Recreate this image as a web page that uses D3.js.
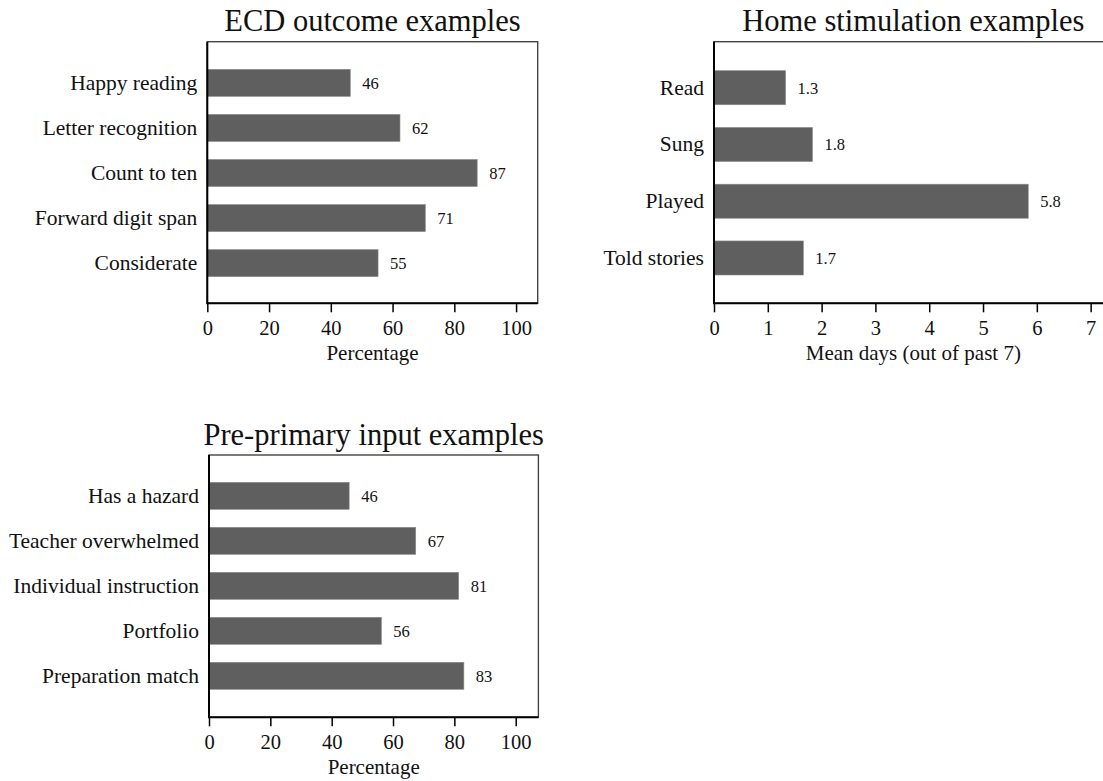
<!DOCTYPE html>
<html>
<head>
<meta charset="utf-8">
<script src="https://cdn.jsdelivr.net/npm/d3@7"></script>
<style>
  html, body { margin: 0; padding: 0; background: #fff; }
  svg, svg text { font-family: "Liberation Serif", "Times New Roman", serif !important; }
</style>
</head>
<body>
<svg id="chart" width="1103" height="781"></svg>
<script>
// ---- Data ----
const ecdCategories = ["Happy reading", "Letter recognition", "Count to ten", "Forward digit span", "Considerate"];
const ecdValues = [46.3, 62.4, 87.4, 70.6, 55.3];

const homeCategories = ["Read", "Sung", "Played", "Told stories"];
const homeValues = [1.33, 1.83, 5.84, 1.66];

const preCategories = ["Has a hazard", "Teacher overwhelmed", "Individual instruction", "Portfolio", "Preparation match"];
const preValues = [45.7, 67.4, 81.4, 56.2, 83.1];

const pctTicks = [0, 20, 40, 60, 80, 100];
const dayTicks = [0, 1, 2, 3, 4, 5, 6, 7];

const titles = ["ECD outcome examples", "Home stimulation examples", "Pre-primary input examples"];
const axisTitles = ["Percentage", "Mean days (out of past 7)", "Percentage"];

// ---- Drawing ----
const svg = d3.select("#chart");
const BAR = "#5f5f5f";
const SERIF = '"Liberation Serif", "Times New Roman", serif';

function panel(cfg) {
  const g = svg.append("g");
  const x = d3.scaleLinear().domain([0, cfg.xMax]).range([cfg.left, cfg.right]);
  const y = d3.scaleBand().domain(cfg.categories).range(cfg.band).paddingInner(0.4).paddingOuter(0.2);

  g.append("rect")
    .attr("x", cfg.left).attr("y", cfg.top)
    .attr("width", cfg.right - cfg.left).attr("height", cfg.bottom - cfg.top)
    .attr("fill", "none").attr("stroke", "#444").attr("stroke-width", 1.4);

  g.selectAll("rect.bar").data(cfg.values).enter().append("rect")
    .attr("class", "bar")
    .attr("x", x(0))
    .attr("y", (d, i) => y(cfg.categories[i]))
    .attr("width", d => x(d) - x(0))
    .attr("height", y.bandwidth())
    .attr("fill", BAR)
    .attr("stroke", "#8a8a8a").attr("stroke-width", 0.6);

  g.selectAll("text.val").data(cfg.values).enter().append("text")
    .attr("class", "val")
    .attr("x", d => x(d) + 12)
    .attr("y", (d, i) => y(cfg.categories[i]) + y.bandwidth() / 2)
    .attr("dy", "0.35em")
    .style("font-size", "16.5px")
    .style("font-family", SERIF)
    .attr("fill", "#111")
    .text(d => d3.format(cfg.fmt)(d));

  const yAxis = d3.axisLeft(y).tickSize(0).tickPadding(10);
  const ya = g.append("g").attr("transform", `translate(${cfg.left},0)`).call(yAxis);
  ya.attr("font-family", null).attr("font-size", null);
  ya.select(".domain").remove();
  ya.selectAll("text").style("font-size", "21.5px").style("font-family", SERIF).attr("fill", "#111");

  g.append("line")
    .attr("x1", cfg.left).attr("x2", cfg.left)
    .attr("y1", cfg.top).attr("y2", cfg.bottom)
    .attr("stroke", "#000").attr("stroke-width", 2);

  const xAxis = d3.axisBottom(x).tickValues(cfg.ticks).tickSize(9).tickPadding(8).tickFormat(d3.format("d"));
  const xa = g.append("g").attr("transform", `translate(0,${cfg.bottom})`).call(xAxis);
  xa.attr("font-family", null).attr("font-size", null);
  xa.select(".domain").remove();
  xa.selectAll(".tick line").attr("stroke", "#000").attr("stroke-width", 1.5);
  xa.selectAll("text").style("font-size", "20.5px").style("font-family", SERIF).attr("fill", "#111");

  g.append("line")
    .attr("x1", cfg.left - 1).attr("x2", cfg.right)
    .attr("y1", cfg.bottom).attr("y2", cfg.bottom)
    .attr("stroke", "#000").attr("stroke-width", 2);

  g.append("text")
    .attr("x", (cfg.left + cfg.right) / 2)
    .attr("y", cfg.bottom + 57)
    .attr("text-anchor", "middle")
    .style("font-size", "21px")
    .style("font-family", SERIF)
    .attr("fill", "#111")
    .text(cfg.axisTitle);

  g.append("text")
    .attr("x", (cfg.left + cfg.right) / 2)
    .attr("y", cfg.top - 10.5)
    .attr("text-anchor", "middle")
    .style("font-size", "30.5px")
    .style("font-family", SERIF)
    .attr("fill", "#111")
    .text(cfg.title);
}

panel({
  categories: ecdCategories, values: ecdValues, ticks: pctTicks, fmt: ".0f",
  xMax: 107, left: 207.3, right: 537.7, top: 41.7, bottom: 303.3, band: [60.3, 285.7],
  title: titles[0], axisTitle: axisTitles[0]
});
panel({
  categories: homeCategories, values: homeValues, ticks: dayTicks, fmt: ".1f",
  xMax: 7.41, left: 714, right: 1112.7, top: 41.7, bottom: 303.3, band: [59.35, 286.35],
  title: titles[1], axisTitle: axisTitles[1]
});
panel({
  categories: preCategories, values: preValues, ticks: pctTicks, fmt: ".0f",
  xMax: 107.4, left: 209, right: 538.4, top: 455, bottom: 717.3, band: [473.3, 698.3],
  title: titles[2], axisTitle: axisTitles[2]
});
</script>
</body>
</html>
